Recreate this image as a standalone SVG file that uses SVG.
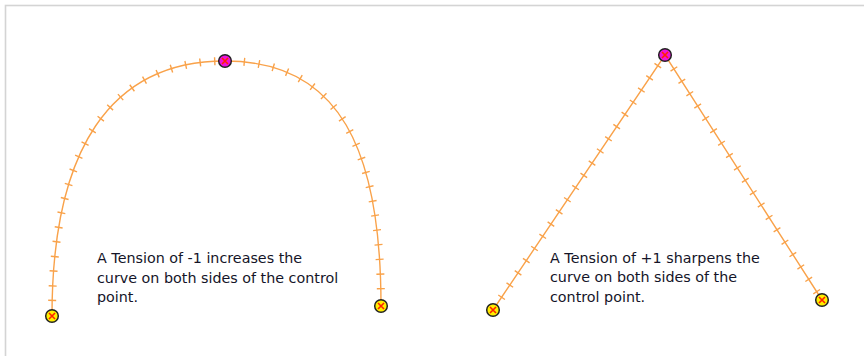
<svg xmlns="http://www.w3.org/2000/svg" width="864" height="356" viewBox="0 0 864 356">
<style>
.curve{fill:none;stroke:#f9a24a;stroke-width:1.4}
.ticks{fill:none;stroke:#f9a24a;stroke-width:8;stroke-dasharray:1.4 13.3}
.pt{stroke:#222;stroke-width:1.5}
.end{fill:#ffee00}
.ctl{fill:#ee11dd}
.x{stroke:#ff2200;stroke-width:1.6}
.lbl{font-family:"DejaVu Sans",Verdana,sans-serif;font-size:14.3px;fill:#141428}
</style>
<rect x="5.5" y="5.5" width="870" height="360" fill="#fff" stroke="#d4d4d4" stroke-width="1.6"/>
<g id="connectors">
  <path class="curve" d="M52,316 C52,150 110,61 225,61 C340,61 381,150 381,306"/>
  <path class="ticks" d="M52,316 C52,150 110,61 225,61 C340,61 381,150 381,306"/>
  <path class="curve" d="M493,310 L665,55 L822,300"/>
  <path class="ticks" d="M493,310 L665,55 L822,300"/>
</g>
<g id="p1"><circle class="pt end" cx="52" cy="316" r="6.3"/><path class="x" d="M49,313 l6,6 M55,313 l-6,6"/></g>
<g id="p2"><circle class="pt ctl" cx="225" cy="61" r="6.3"/><path class="x" d="M222,58 l6,6 M228,58 l-6,6"/></g>
<g id="p3"><circle class="pt end" cx="381" cy="306" r="6.3"/><path class="x" d="M378,303 l6,6 M384,303 l-6,6"/></g>
<g id="p4"><circle class="pt end" cx="493" cy="310" r="6.3"/><path class="x" d="M490,307 l6,6 M496,307 l-6,6"/></g>
<g id="p5"><circle class="pt ctl" cx="665" cy="55" r="6.3"/><path class="x" d="M662,52 l6,6 M668,52 l-6,6"/></g>
<g id="p6"><circle class="pt end" cx="822" cy="300" r="6.3"/><path class="x" d="M819,297 l6,6 M825,297 l-6,6"/></g>
<g id="label1"><text class="lbl" x="97" y="263">A Tension of -1 increases the</text><text class="lbl" x="97" y="283">curve on both sides of the control</text><text class="lbl" x="97" y="302">point.</text></g>
<g id="label2"><text class="lbl" x="550" y="263">A Tension of +1 sharpens the</text><text class="lbl" x="550" y="282">curve on both sides of the</text><text class="lbl" x="550" y="302">control point.</text></g>
</svg>
